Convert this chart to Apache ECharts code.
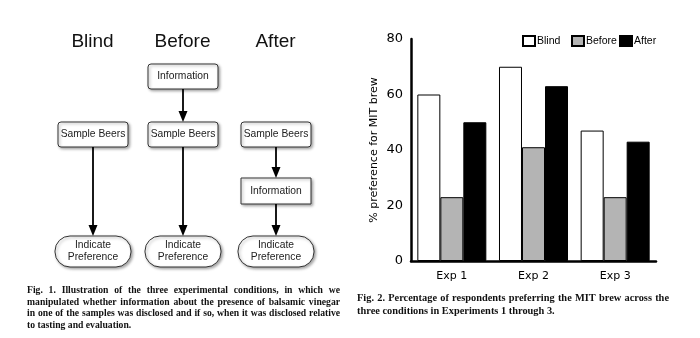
<!DOCTYPE html>
<html><head><meta charset="utf-8">
<script src="https://cdn.jsdelivr.net/npm/echarts@6/dist/echarts.min.js"></script>
<style>html,body{margin:0;padding:0;background:#fff}#c{width:700px;height:338px}</style>
</head><body><div id="c"></div>
<script>
// ---- data ----
const categories = ['Exp 1', 'Exp 2', 'Exp 3'];
const blind = [60, 70, 47];
const before = [23, 41, 23];
const after = [50, 63, 43];
const yTicks = [0, 20, 40, 60, 80];
const conditions = ['Blind', 'Before', 'After'];
const yTitle = '% preference for MIT brew';
const fig1Caption = [
  'Fig. 1. Illustration of the three experimental conditions, in which we',
  'manipulated whether information about the presence of balsamic vinegar',
  'in one of the samples was disclosed and if so, when it was disclosed relative',
  'to tasting and evaluation.'
];
const fig2Caption = [
  'Fig. 2. Percentage of respondents preferring the MIT brew across the',
  'three conditions in Experiments 1 through 3.'
];

// ---- helpers ----
const mctx = document.createElement('canvas').getContext('2d');
const SERIF = '"Liberation Serif", "DejaVu Serif", serif';
function captionEls(lines, x0, x1, y0, lh, size) {
  const font = 'bold ' + size + 'px ' + SERIF;
  mctx.font = font;
  const avail = x1 - x0;
  let maxW = 0;
  lines.forEach(l => { maxW = Math.max(maxW, mctx.measureText(l).width); });
  const s = Math.min(1, avail * 0.98 / maxW);
  const els = [];
  lines.forEach((ln, i) => {
    const words = ln.split(' ');
    const last = i === lines.length - 1;
    const ws = words.map(w => mctx.measureText(w).width * s);
    const total = ws.reduce((a, b) => a + b, 0);
    const gap = last ? mctx.measureText(' ').width * s : (avail - total) / (words.length - 1);
    let x = x0;
    words.forEach((w, j) => {
      els.push({type: 'text', x: x, y: y0 + i * lh, scaleX: s, silent: true,
        style: {text: w, font: font, fill: '#111', align: 'left', verticalAlign: 'middle'}});
      x += ws[j] + gap;
    });
  });
  return els;
}
const SANS = '"Liberation Sans", Arial, sans-serif';
const shadow = {shadowBlur: 3, shadowOffsetX: 1.5, shadowOffsetY: 1.5, shadowColor: 'rgba(0,0,0,0.35)'};
function box(x, y, w, h, r, lines) {
  const els = [{type: 'rect', shape: {x: x, y: y, width: w, height: h, r: r},
    style: Object.assign({fill: '#fff', stroke: '#333', lineWidth: 1}, shadow)}];
  const lh = 12;
  const cy = y + h / 2 - (lines.length - 1) * lh / 2;
  lines.forEach((t, i) => els.push({type: 'text', x: x + w / 2, y: cy + i * lh,
    style: {text: t, font: '10.3px ' + SANS, fill: '#222', align: 'center', verticalAlign: 'middle'}}));
  return els;
}
function arrow(x, y1, y2) {
  const hh = 11, hw = 4.5;
  return [
    {type: 'line', shape: {x1: x, y1: y1, x2: x, y2: y2 - hh + 1}, style: {stroke: '#000', lineWidth: 1.8}},
    {type: 'polygon', shape: {points: [[x - hw, y2 - hh], [x + hw, y2 - hh], [x, y2]]}, style: {fill: '#000'}}
  ];
}

// ---- flowchart (Fig. 1) ----
const cols = [93, 183, 276];
let g = [];
conditions.forEach((c, i) => g.push({type: 'text', x: cols[i] - 0.5, y: 42,
  style: {text: c, font: '19px ' + SANS, fill: '#111', align: 'center', verticalAlign: 'middle'}}));
g = g.concat(box(148, 64, 70, 25, 3, ['Information']));
g = g.concat(arrow(183, 89, 122));
g = g.concat(box(58, 122, 70, 25, 3, ['Sample Beers']));
g = g.concat(box(148, 122, 70, 25, 3, ['Sample Beers']));
g = g.concat(box(241, 122, 70, 25, 3, ['Sample Beers']));
g = g.concat(arrow(276, 147, 178));
g = g.concat(box(241, 178, 70, 26, 0, ['Information']));
g = g.concat(arrow(276, 204, 236));
g = g.concat(arrow(93, 147, 236));
g = g.concat(arrow(183, 147, 236));
g = g.concat(box(55, 236, 76, 31, 15, ['Indicate', 'Preference']));
g = g.concat(box(145, 236, 76, 31, 15, ['Indicate', 'Preference']));
g = g.concat(box(238, 236, 76, 31, 15, ['Indicate', 'Preference']));
g = g.concat(captionEls(fig1Caption, 27, 340, 290, 11.8, 10.5));
g = g.concat(captionEls(fig2Caption, 357, 669, 298, 13.5, 10.5));

// ---- bar chart (Fig. 2) ----
const chart = echarts.init(document.getElementById('c'), null, {renderer: 'canvas'});
const CH = '"DejaVu Sans", sans-serif';
const barStyles = [
  {color: '#ffffff', borderColor: '#000', borderWidth: 1},
  {color: '#b4b4b4', borderColor: '#000', borderWidth: 1},
  {color: '#000000', borderColor: '#000', borderWidth: 1}
];
const seriesData = [blind, before, after];
const legendLeft = [522, 571, 619];
chart.setOption({
  animation: false,
  backgroundColor: '#fff',
  grid: {left: 411, top: 39, width: 245, height: 222, outerBoundsMode: 'none', containLabel: false},
  legend: conditions.map((c, i) => ({
    left: legendLeft[i], top: 35, padding: 0, itemWidth: 12, itemHeight: 10,
    icon: 'rect',
    textStyle: {fontFamily: SANS, fontSize: 10.5, color: '#000', padding: [0, 0, 0, -3]},
    data: [c]
  })),
  xAxis: {
    type: 'category', data: categories,
    axisLine: {lineStyle: {color: '#000', width: 2.5}},
    axisTick: {show: false},
    axisLabel: {color: '#000', fontSize: 11, fontFamily: CH, margin: 10}
  },
  yAxis: {
    type: 'value', min: yTicks[0], max: yTicks[yTicks.length - 1], interval: yTicks[1] - yTicks[0],
    axisLine: {show: true, lineStyle: {color: '#000', width: 2.5}},
    axisTick: {show: false},
    splitLine: {show: false},
    axisLabel: {color: '#000', fontSize: 13, fontFamily: CH, margin: 8},
    name: yTitle, nameLocation: 'middle', nameGap: 31,
    nameTextStyle: {color: '#000', fontSize: 11, fontFamily: CH}
  },
  series: conditions.map((c, i) => ({
    name: c, type: 'bar', data: seriesData[i],
    barGap: '0%', barCategoryGap: '15.5%',
    itemStyle: barStyles[i]
  })),
  graphic: {elements: g}
});
</script></body></html>
